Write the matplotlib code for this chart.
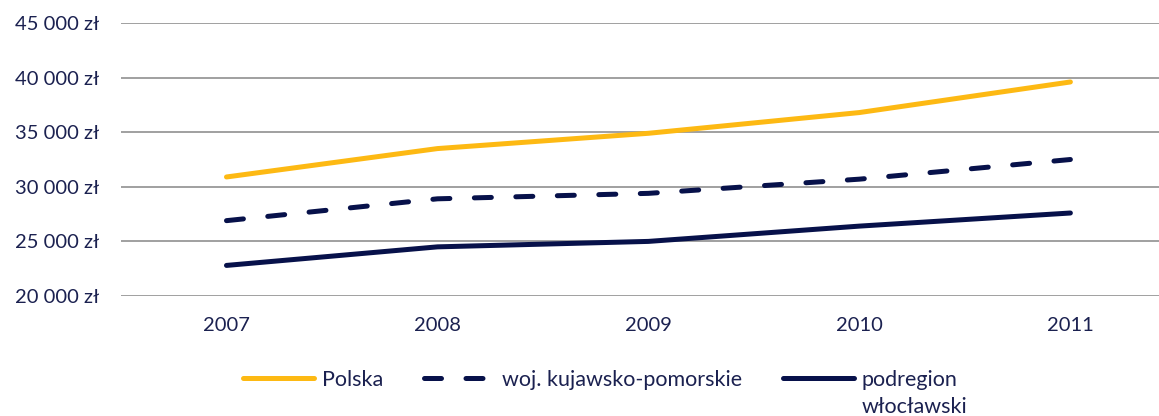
import matplotlib
matplotlib.use("Agg")
import matplotlib.pyplot as plt
from matplotlib.ticker import FuncFormatter

years = ["2007", "2008", "2009", "2010", "2011"]
polska = [30900, 33500, 34900, 36800, 39600]
kujawsko_pomorskie = [26900, 28900, 29400, 30700, 32500]
wloclawski = [22800, 24500, 25000, 26400, 27600]

labels = ["Polska", "woj. kujawsko-pomorskie", "podregion"]
label_second_line = "włocławski"

YELLOW = "#FDB913"
NAVY = "#07114A"
TEXT = "#1B2150"

plt.rcParams["font.family"] = ["Lato", "DejaVu Sans"]

fig = plt.figure(figsize=(11.59, 4.16), dpi=100)
ax = fig.add_axes([121 / 1159, 1 - 296 / 416, 1 - 121 / 1159, (296 - 23) / 416])

x = range(len(years))
ax.plot(x, polska, color=YELLOW, lw=3.6, solid_capstyle="round", label=labels[0])
ax.plot(x, kujawsko_pomorskie, color=NAVY, lw=3.6, linestyle=(0, (3.4, 4.9)),
        dash_capstyle="round", label=labels[1])
ax.plot(x, wloclawski, color=NAVY, lw=3.6, solid_capstyle="round", label=labels[2])

ax.set_ylim(20000, 45000)
ax.set_yticks(range(20000, 45001, 5000))
ax.yaxis.set_major_formatter(FuncFormatter(lambda v, _: f"{v:,.0f}".replace(",", " ") + " zł"))
ax.set_xlim(-0.5, 4.42)
ax.set_xticks(list(x))
ax.set_xticklabels(years)
ax.grid(axis="y", color="#999999", lw=1.3)
ax.set_axisbelow(True)
for s in ax.spines.values():
    s.set_visible(False)
ax.tick_params(length=0, colors=TEXT, labelsize=14.5)
ax.tick_params(axis="y", pad=16)
ax.tick_params(axis="x", pad=15)

leg = fig.legend(loc="center", bbox_to_anchor=(0.518, 0.0865), ncol=3, frameon=False,
                 handlelength=3.3, handletextpad=0.35, columnspacing=1.9,
                 labelcolor=TEXT, fontsize=15.5)

# second line of the last legend label, placed under the first one
fig.canvas.draw()
bb = leg.get_texts()[2].get_window_extent()
fig.text(bb.x0 / fig.bbox.width, (bb.y0 - 27) / fig.bbox.height, label_second_line,
         color=TEXT, fontsize=15.5, ha="left", va="bottom")

fig.savefig("out.png", dpi=100)
